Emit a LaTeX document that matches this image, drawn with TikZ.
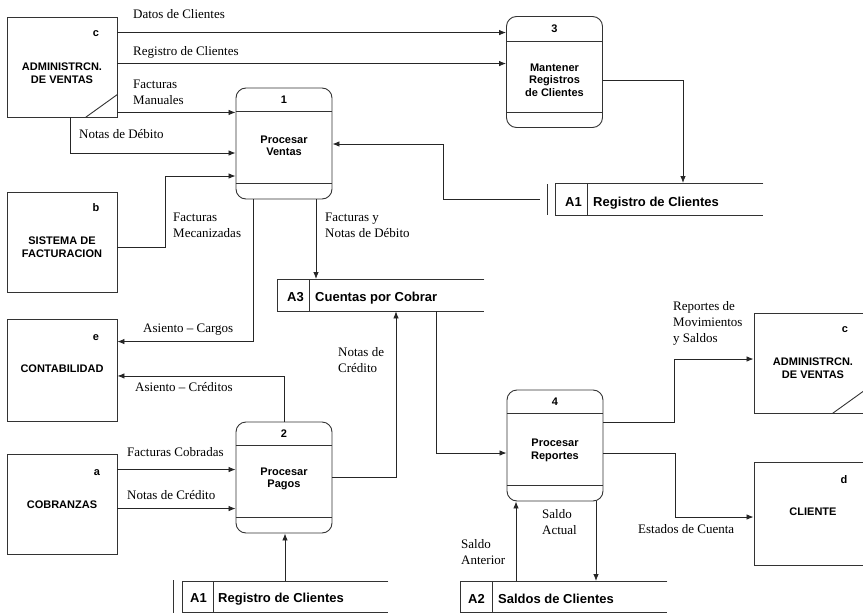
\documentclass[tikz,border=0pt]{standalone}
\usepackage{fontspec}
\setmainfont{Liberation Serif}
\setsansfont{Liberation Sans}
\usetikzlibrary{arrows.meta,calc}
\begin{document}
\begin{tikzpicture}[x=1pt,y=-1pt,
  ent/.style={draw=black!80, line width=0.9pt, minimum width=110pt, minimum height=100pt, inner sep=0pt},
  proc/.style={draw=black!80, line width=0.9pt, rounded corners=10pt, minimum width=96pt, minimum height=111pt, inner sep=0pt},
  bold/.style={font=\sffamily\bfseries\fontsize{11}{12.5}\selectfont, align=center, inner sep=0pt},
  stxt/.style={font=\sffamily\bfseries\fontsize{13}{14}\selectfont, inner sep=0pt, anchor=base west},
  store/.style={inner sep=0pt, anchor=north west, minimum height=32pt},
  lbl/.style={font=\fontsize{13}{16}\selectfont, align=left, inner sep=0pt, anchor=north west},
  flow/.style={draw=black!85, line width=0.8pt, -{Latex[length=7pt,width=5.5pt]}},
  sline/.style={draw=black!80, line width=0.9pt},
]
\useasboundingbox (0,0) rectangle (863,613);

% ---------- external entities ----------
\node[ent] (c1) at (62,67) {};
\node[bold] (c1id) at (96,34) {c};
\node[bold] (c1t) at (62,73) {ADMINISTRCN.\\DE VENTAS};
\draw[sline] ($(c1.south east)+(-32,0)$) -- ($(c1.south east)+(0,-23)$);

\node[ent] (b) at (62,242) {};
\node[bold] (bid) at (96,208) {b};
\node[bold] (bt) at (62,247) {SISTEMA DE\\FACTURACION};

\node[ent, minimum height=102pt] (e) at (62,370.5) {};
\node[bold] (eid) at (96,338) {e};
\node[bold] (et) at (62,369) {CONTABILIDAD};

\node[ent] (a) at (62,504) {};
\node[bold] (aid) at (97,473) {a};
\node[bold] (at) at (62,505) {COBRANZAS};

\node[ent] (c2) at (809,363) {};
\node[bold] (c2id) at (845,330) {c};
\node[bold] (c2t) at (813,368) {ADMINISTRCN.\\DE VENTAS};
\draw[sline] ($(c2.south east)+(-32,0)$) -- ($(c2.south east)+(0,-23)$);

\node[ent, minimum height=103pt] (d) at (809,513.5) {};
\node[bold] (did) at (844,480) {d};
\node[bold] (dt) at (813,512) {CLIENTE};

% ---------- processes ----------
\node[proc] (P1) at (284,143.5) {};
\draw[sline] ($(P1.north west)+(0,24)$) -- ($(P1.north east)+(0,24)$);
\draw[sline] ($(P1.south west)+(0,-16)$) -- ($(P1.south east)+(0,-16)$);
\node[bold] (P1n) at ($(P1.north)+(0,12)$) {1};
\node[bold] (P1t) at (284,146) {Procesar\\Ventas};

\node[proc] (P3) at (554.5,72) {};
\draw[sline] ($(P3.north west)+(0,25)$) -- ($(P3.north east)+(0,25)$);
\draw[sline] ($(P3.south west)+(0,-16)$) -- ($(P3.south east)+(0,-16)$);
\node[bold] (P3n) at ($(P3.north)+(0,12.5)$) {3};
\node[bold] (P3t) at (554.5,80) {Mantener\\Registros\\de Clientes};

\node[proc] (P2) at (284,477.5) {};
\draw[sline] ($(P2.north west)+(0,24)$) -- ($(P2.north east)+(0,24)$);
\draw[sline] ($(P2.south west)+(0,-16)$) -- ($(P2.south east)+(0,-16)$);
\node[bold] (P2n) at ($(P2.north)+(0,12)$) {2};
\node[bold] (P2t) at (284,479) {Procesar\\Pagos};

\node[proc] (P4) at (555,445.5) {};
\draw[sline] ($(P4.north west)+(0,24)$) -- ($(P4.north east)+(0,24)$);
\draw[sline] ($(P4.south west)+(0,-16)$) -- ($(P4.south east)+(0,-16)$);
\node[bold] (P4n) at ($(P4.north)+(0,12)$) {4};
\node[bold] (P4t) at (555,450.5) {Procesar\\Reportes};

% ---------- data stores ----------
\node[store, minimum width=208pt] (S1) at (555,183) {};
\draw[sline] (S1.north east) -- (S1.north west) -- (S1.south west) -- (S1.south east);
\draw[sline] ($(S1.north west)+(32,0)$) -- ($(S1.south west)+(32,0)$);
\draw[sline] ($(S1.north west)+(-8,1)$) -- ($(S1.south west)+(-8,0)$);
\node[stxt] (S1id) at ($(S1.north west)+(10,23.5)$) {A1};
\node[stxt] (S1t) at ($(S1.north west)+(38,23.5)$) {Registro de Clientes};

\node[store, minimum width=207pt] (S3) at (277,279) {};
\draw[sline] (S3.north east) -- (S3.north west) -- (S3.south west) -- (S3.south east);
\draw[sline] ($(S3.north west)+(32,0)$) -- ($(S3.south west)+(32,0)$);
\node[stxt] (S3id) at ($(S3.north west)+(10,22)$) {A3};
\node[stxt] (S3t) at ($(S3.north west)+(38,22)$) {Cuentas por Cobrar};

\node[store, minimum width=206pt, minimum height=31pt] (S1b) at (182,581) {};
\draw[sline] (S1b.north east) -- (S1b.north west) -- (S1b.south west) -- (S1b.south east);
\draw[sline] ($(S1b.north west)+(31,0)$) -- ($(S1b.south west)+(31,0)$);
\draw[sline] ($(S1b.north west)+(-9,-1)$) -- ($(S1b.south west)+(-9,1)$);
\node[stxt] (S1bid) at ($(S1b.north west)+(8,21.5)$) {A1};
\node[stxt] (S1bt) at ($(S1b.north west)+(36,21.5)$) {Registro de Clientes};

\node[store, minimum width=207pt, minimum height=31pt] (S2) at (460,581) {};
\draw[sline] (S2.north east) -- (S2.north west) -- (S2.south west) -- (S2.south east);
\draw[sline] ($(S2.north west)+(32,0)$) -- ($(S2.south west)+(32,0)$);
\node[stxt] (S2id) at ($(S2.north west)+(8,22.5)$) {A2};
\node[stxt] (S2t) at ($(S2.north west)+(38,22.5)$) {Saldos de Clientes};

% ---------- flows ----------
\coordinate (k1) at ($(c1.north east)+(0,16)$);
\draw[flow] (k1) -- (k1 -| P3.west);
\coordinate (k2) at ($(c1.north east)+(0,47)$);
\draw[flow] (k2) -- (k2 -| P3.west);
\coordinate (k3) at ($(c1.south east)+(0,-5)$);
\draw[flow] (k3) -- (k3 -| P1.west);
\coordinate (k4) at ($(c1.south)+(8,0)$);
\draw[flow] (k4) |- ($(P1.west)+(0,9.5)$);
\draw[flow] ($(b.east)+(0,5)$) -- ++(48,0) |- ($(P1.west)+(0,32.5)$);
\draw[flow] ($(S1.west)+(-15,0)$) -- ++(-97,0) |- ($(P1.east)+(0,0.5)$);
\draw[flow] ($(P3.east)+(0,8)$) -| ($(S1.north west)+(128,0)$);
\draw[flow] ($(P1.south)+(-31,0)$) |- ($(e.north east)+(0,22.5)$);
\coordinate (k9) at ($(P1.south)+(32,0)$);
\draw[flow] (k9) -- (k9 |- S3.north);
\draw[flow] (P2.north) |- ($(e.south east)+(0,-46)$);
\coordinate (k11) at ($(a.north east)+(0,16)$);
\draw[flow] (k11) -- (k11 -| P2.west);
\coordinate (k12) at ($(a.north east)+(0,55)$);
\draw[flow] (k12) -- (k12 -| P2.west);
\draw[flow] ($(P2.east)+(0,-0.5)$) -| ($(S3.south west)+(119,0)$);
\coordinate (k14) at ($(S1b.north west)+(103,0)$);
\draw[flow] (k14) -- (k14 |- P2.south);
\draw[flow] ($(S3.south west)+(159,0)$) |- ($(P4.west)+(0,7.5)$);
\draw[flow] ($(P4.east)+(0,-23.5)$) -- ++(71,0) |- ($(c2.west)+(0,-4)$);
\draw[flow] ($(P4.east)+(0,7.5)$) -- ++(72,0) |- ($(d.west)+(0,3.5)$);
\coordinate (k18) at ($(S2.north west)+(56,0)$);
\draw[flow] (k18) -- (k18 |- P4.south);
\coordinate (k19) at ($(P4.south)+(41,0)$);
\draw[flow] (k19) -- (k19 |- S2.north);

% ---------- labels ----------
\node[lbl] (L1) at (133,9) {Datos de Clientes};
\node[lbl] (L2) at (133,46) {Registro de Clientes};
\node[lbl] (L3) at (133,80) {Facturas\\Manuales};
\node[lbl] (L4) at (79,129) {Notas de Débito};
\node[lbl] (L5) at (173,213) {Facturas\\Mecanizadas};
\node[lbl] (L8) at (143,324) {Asiento – Cargos};
\node[lbl] (L9) at (325,213) {Facturas y\\Notas de Débito};
\node[lbl] (L10) at (135,382) {Asiento – Créditos};
\node[lbl] (L11) at (127,447) {Facturas Cobradas};
\node[lbl] (L12) at (127,490) {Notas de Crédito};
\node[lbl] (L13) at (338,347) {Notas de\\Crédito};
\node[lbl] (L16) at (673,301) {Reportes de\\Movimientos\\y Saldos};
\node[lbl] (L17) at (638,524) {Estados de Cuenta};
\node[lbl] (L18) at (461,539) {Saldo\\Anterior};
\node[lbl] (L19) at (542,509) {Saldo\\Actual};
\end{tikzpicture}
\end{document}
